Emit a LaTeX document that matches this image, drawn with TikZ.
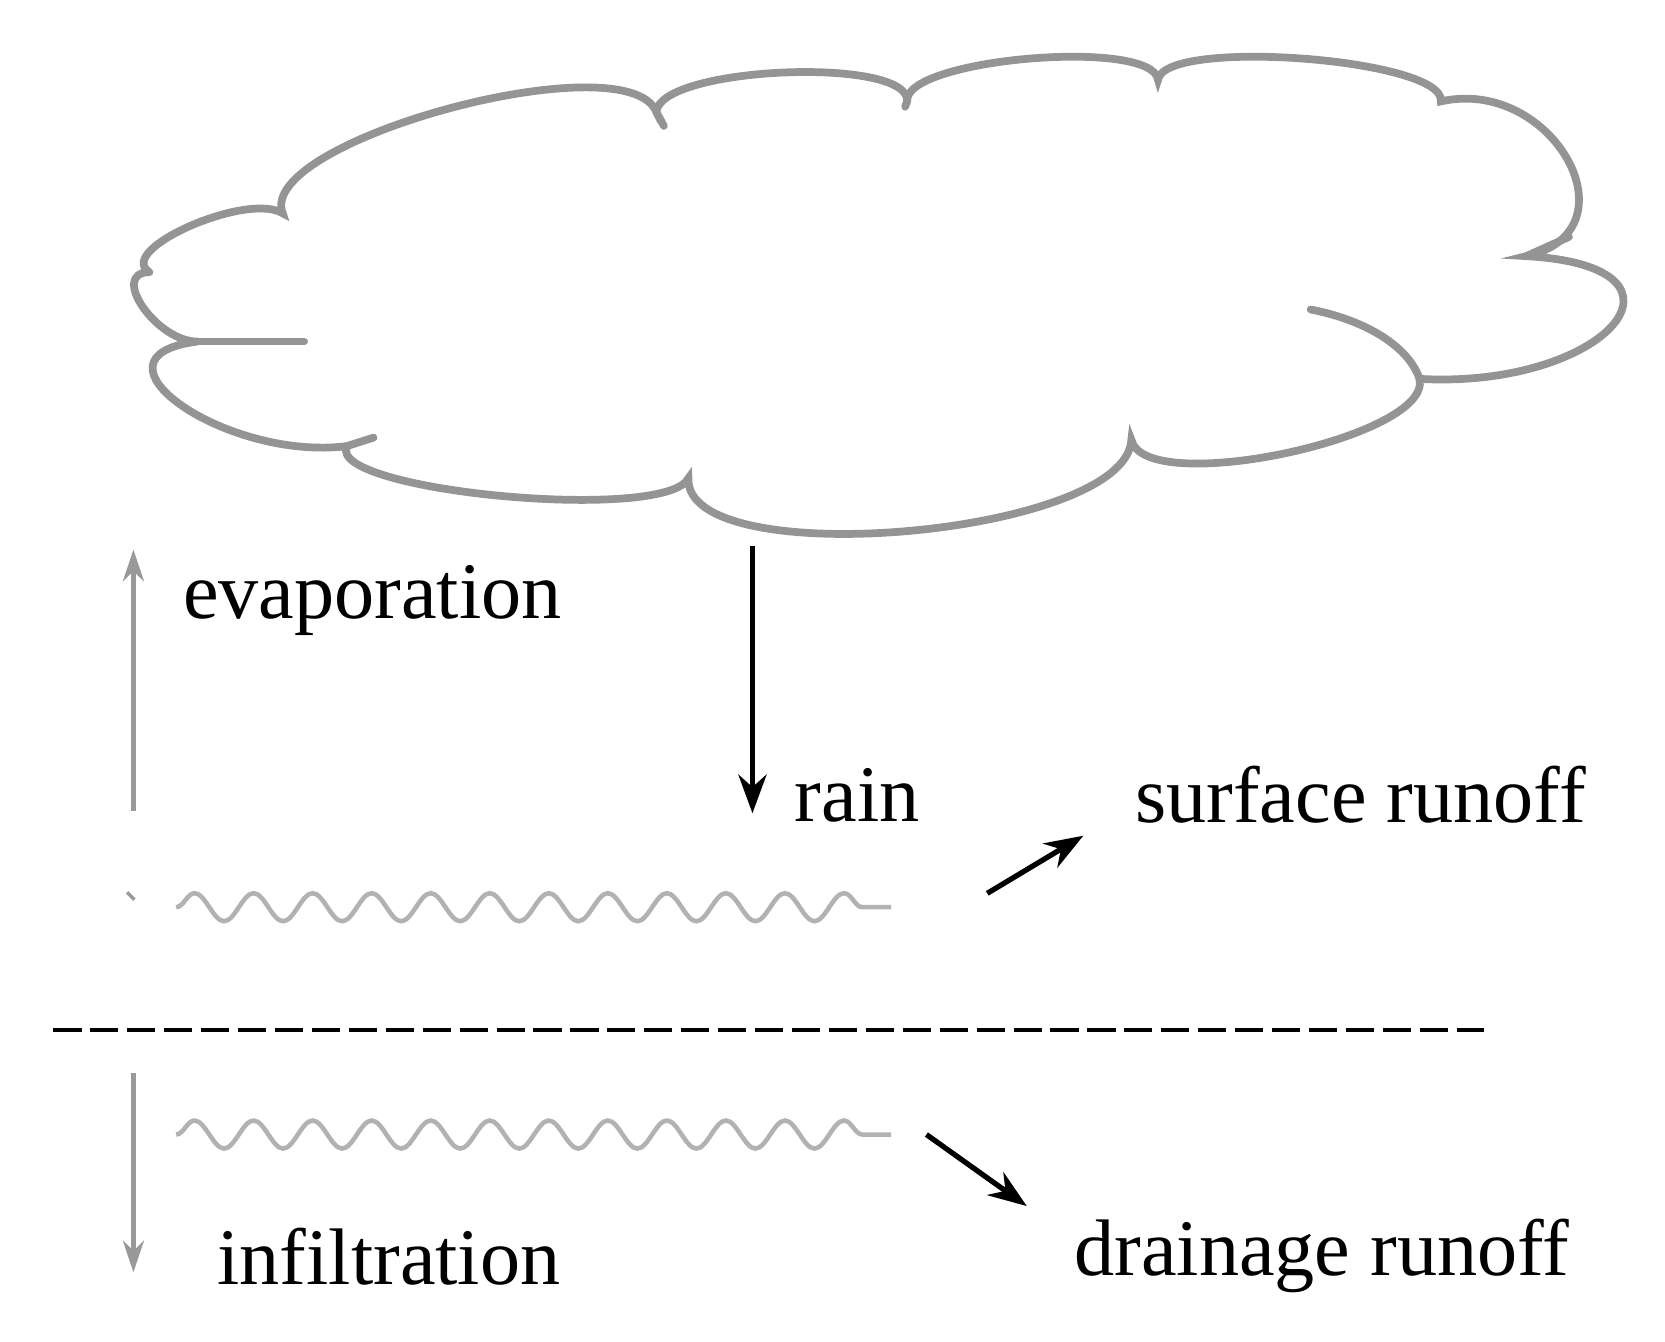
\documentclass[tikz,border=0pt]{standalone}
\usepackage{fontspec}
\setmainfont{Liberation Serif}
\usetikzlibrary{calc,decorations.pathmorphing,arrows.meta}
\newcommand{\bmp}[3]{.. controls ($0.333*#1+1.333*#2-0.667*#3$) and ($0.333*#3+1.333*#2-0.667*#1$) .. #3}
\begin{document}
\begin{tikzpicture}[x=0.01067cm,y=-0.01067cm,
  lbl/.style={font=\fontsize{22.8}{26}\selectfont,anchor=west},
  gry/.style={draw=black!40},
  cl/.style={draw=black!42,line width=2.2pt,line cap=round},
  wave/.style={draw=black!30,line width=1.3pt,decorate,decoration={snake,segment length=0.59cm,amplitude=0.14cm}},
  garr/.style={gry,line width=1.3pt,-{Stealth[length=9pt,width=6pt]}},
  barr/.style={black,line width=1.5pt,-{Stealth[length=11pt,width=8pt]}}]
\useasboundingbox (0,0) rectangle (1560,1257);
\coordinate (c1) at (140,255); \coordinate (c2) at (265,200);
\coordinate (c3) at (615,105); \coordinate (c4) at (850,95);
\coordinate (c5) at (1085,75); \coordinate (c6) at (1350,95);
\coordinate (c7) at (1430,240); \coordinate (c8) at (1330,355);
\coordinate (c9) at (1060,412); \coordinate (c10) at (645,448);
\coordinate (c11) at (325,418); \coordinate (c12) at (185,320);
\draw[cl] (c1) \bmp{(c1)}{(178,212)}{(c2)}
  \bmp{(c2)}{(420,102)}{(c3)}
  \bmp{(c3)}{(735,68)}{(c4)}
  \bmp{(c4)}{(965,55)}{(c5)}
  \bmp{(c5)}{(1222,55)}{(c6)}
  \bmp{(c6)}{(1470,150)}{(c7)}
  \bmp{(c7)}{(1512,305)}{(c8)}
  \bmp{(c8)}{(1205,425)}{(c9)}
  \bmp{(c9)}{(850,498)}{(c10)}
  \bmp{(c10)}{(470,465)}{(c11)}
  \bmp{(c11)}{(170,380)}{(c12)}
  \bmp{(c12)}{(134,288)}{(c1)};
\draw[cl] (c12) -- (285,320);
\draw[cl] (c11) -- (350,410);
\draw[cl] (c7) -- (1470,222);
\draw[cl] (1228,290) .. controls (1280,300) and (1320,325) .. (c8);
\draw[cl] (c3) -- (622,118);
\draw[cl] (c4) -- (848,100);
\coordinate (e0) at (125,760); \coordinate (e1) at (125,515);
\draw[garr] (e0) -- (e1);
\node[lbl] (evap) at (160,563) {evaporation};
\coordinate (r0) at (705,512); \coordinate (r1) at (705,762);
\draw[barr] (r0) -- (r1);
\node[lbl] (rain) at (733,745) {rain};
\coordinate (s0) at (925,837); \coordinate (s1) at (1015,783);
\draw[barr] (s0) -- (s1);
\node[lbl] (surf) at (1052,745) {surface runoff};
\draw[wave] (165,850) -- (835,850);
\draw[gry,line width=1pt] (119,836) -- (126,843);
\draw[black,line width=1.3pt,dash pattern=on 8pt off 2.5pt] (50,965) -- (1390,965);
\draw[wave] (165,1063) -- (835,1063);
\coordinate (i0) at (125,1005); \coordinate (i1) at (125,1192);
\draw[garr] (i0) -- (i1);
\node[lbl] (inf) at (192,1177) {infiltration};
\coordinate (d0) at (868,1063); \coordinate (d1) at (962,1130);
\draw[barr] (d0) -- (d1);
\node[lbl] (drain) at (995,1177) {drainage runoff};
\end{tikzpicture}
\end{document}
